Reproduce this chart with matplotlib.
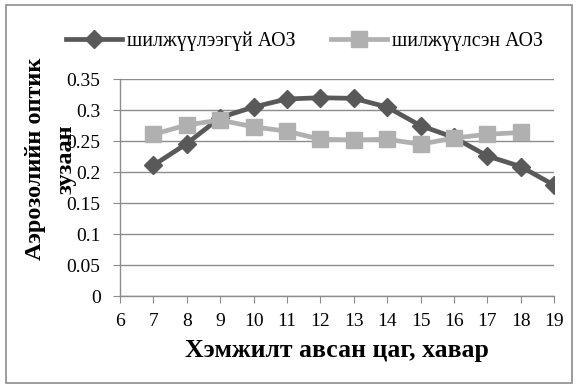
import numpy as np
import matplotlib.pyplot as plt
from matplotlib.patches import Rectangle

plt.rcParams['font.family'] = 'serif'
plt.rcParams['font.serif'] = ['Liberation Serif', 'DejaVu Serif']
SERIF = ['Liberation Serif', 'DejaVu Serif']

# measurement hour (spring)
hours_raw = [7, 8, 9, 10, 11, 12, 13, 14, 15, 16, 17, 18, 19]
aod_raw = [0.211, 0.246, 0.288, 0.305, 0.318, 0.320, 0.319, 0.305, 0.275, 0.256, 0.226, 0.209, 0.179]

hours_conv = [7, 8, 9, 10, 11, 12, 13, 14, 15, 16, 17, 18]
aod_conv = [0.261, 0.276, 0.284, 0.273, 0.266, 0.253, 0.252, 0.253, 0.245, 0.255, 0.261, 0.264]

label_raw = 'шилжүүлээгүй АОЗ'
label_conv = 'шилжүүлсэн АОЗ'

fig = plt.figure(figsize=(5.78, 3.88), dpi=100)
ax = fig.add_axes([0.2076, 0.237, 0.751, 0.559])

dark = '#595959'
light = '#b0b0b0'

ax.plot(hours_raw, aod_raw, color=dark, lw=3.4, marker='D', ms=9,
        label=label_raw, zorder=3)
ax.plot(hours_conv, aod_conv, color=light, lw=3.4, marker='s', ms=12,
        label=label_conv, zorder=4)

ax.set_xlim(6, 19)
ax.set_ylim(0, 0.35)
ax.set_xticks(range(6, 20))
ax.set_yticks(np.arange(0, 0.351, 0.05))
ax.set_yticklabels(['0', '0.05', '0.1', '0.15', '0.2', '0.25', '0.3', '0.35'])

ax.grid(axis='y', color='#8c8c8c', lw=1.0)
ax.set_axisbelow(True)
for s in ['top', 'right']:
    ax.spines[s].set_visible(False)
for s in ['left', 'bottom']:
    ax.spines[s].set_color('#8c8c8c')
    ax.spines[s].set_linewidth(1.0)
ax.tick_params(axis='x', direction='out', length=5, color='#8c8c8c',
               labelsize=14, pad=7)
ax.tick_params(axis='y', length=5, color='#8c8c8c', labelsize=14, pad=9)
for t in ax.get_xticklabels() + ax.get_yticklabels():
    t.set_family(SERIF)

ax.set_xlabel('Хэмжилт авсан цаг, хавар', fontsize=18.5, fontweight='bold',
              family=SERIF, labelpad=7)
# two-line y title; the second line runs over the tick labels
fig.text(0.088, 0.59, 'Аэрозолийн оптик\nзузаан', rotation=90,
         fontsize=17.5, fontweight='bold', ha='center', va='center',
         family=SERIF, linespacing=1.55)

leg = ax.legend(loc='center', bbox_to_anchor=(0.425, 1.175), ncol=2,
                frameon=False, handlelength=2.8, handletextpad=0.25,
                columnspacing=1.8, borderaxespad=0, borderpad=0,
                prop={'family': SERIF, 'size': 14.3})

fig.patches.append(Rectangle((0.011, 0.012), 0.978, 0.975,
                             transform=fig.transFigure, fill=False,
                             edgecolor='#8c8c8c', lw=1.2))

fig.savefig('out.png', dpi=100)
